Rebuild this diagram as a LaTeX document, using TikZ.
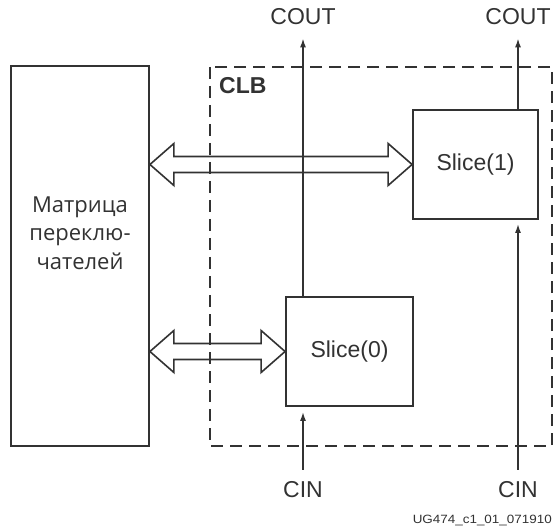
\documentclass[tikz,border=0pt]{standalone}
\usepackage{fontspec}
\setmainfont{Liberation Sans}
\newfontfamily\rufont{Open Sans}
\usetikzlibrary{arrows.meta,positioning,calc}
\definecolor{lnC}{RGB}{50,50,50}
% wide two-headed hollow arrow between two points
\newcommand{\wideArr}[2]{%
  \draw[dbl] (#1) -- ++(24,-21) -- ++(0,13) -- ($(#2)+(-24,-8)$) -- ++(0,-13)
    -- (#2) -- ++(-24,21) -- ++(0,-13) -- ($(#1)+(24,8)$) -- ++(0,13) -- cycle;}
\begin{document}
\begin{tikzpicture}[
  x=1pt,y=-1pt,
  blk/.style={rectangle,draw=lnC,line width=1.8pt,inner sep=0pt},
  clbbox/.style={draw=lnC,line width=1.8pt,dash pattern=on 12pt off 7pt},
  sig/.style={-{Latex[length=9pt,width=6pt]},lnC,line width=1.6pt},
  lbl/.style={font=\fontsize{23}{26}\selectfont,text=lnC,inner sep=2pt},
  dbl/.style={draw=lnC,line width=1.6pt,line join=miter}
]
  \useasboundingbox (0,0) rectangle (554,529);
  % ---------------- CLB ----------------
  \draw[clbbox] (210,67) rectangle (552,446);
  \node[lbl,font=\fontsize{23}{26}\selectfont\bfseries,anchor=west] (clbl) at (217,86) {CLB};
  % ---------------- SWITCH MATRIX ----------------
  \node[blk,minimum width=138pt,minimum height=380pt] (sm) at (80,256) {};
  \node[font=\rufont\fontsize{22}{28.5}\selectfont,text=lnC,align=center] (smtxt) at (80,233)
    {Матрица\\переклю-\\чателей};
  % ---------------- SLICES ----------------
  \node[blk,minimum width=125pt,minimum height=109pt,font=\fontsize{23}{26}\selectfont,text=lnC] (s1) at (475.5,164.5) {Slice(1)};
  \node[blk,minimum width=127pt,minimum height=109pt,font=\fontsize{23}{26}\selectfont,text=lnC] (s0) at (349.5,351.5) {Slice(0)};
  % ---------------- CARRY ----------------
  \node[lbl] (cout0) at (303,17) {COUT};
  \node[lbl] (cout1) at (518,17) {COUT};
  \node[lbl] (cin0) at (303,490) {CIN};
  \node[lbl] (cin1) at (518,490) {CIN};
  \draw[sig] (s0.north -| cout0) -- ($(cout0.south)+(0,11)$);
  \draw[sig] (s1.north -| cout1) -- ($(cout1.south)+(0,11)$);
  \draw[sig] ($(cin0.north)+(0,-10)$) -- ($(s0.south -| cin0)+(0,5)$);
  \draw[sig] ($(cin1.north)+(0,-10)$) -- ($(s1.south -| cin1)+(0,4)$);
  % ---------------- BUSES ----------------
  \coordinate (b1) at (sm.east |- s1.west);
  \coordinate (b0) at (sm.east |- s0.west);
  \wideArr{b1}{s1.west}
  \wideArr{b0}{s0.west}
  % ---------------- FIGURE ID ----------------
  \node[font=\fontsize{12}{13}\selectfont,text=lnC,anchor=east,inner sep=0pt,xscale=1.12] (figid) at (552,521) {UG474\_c1\_01\_071910};
\end{tikzpicture}
\end{document}
